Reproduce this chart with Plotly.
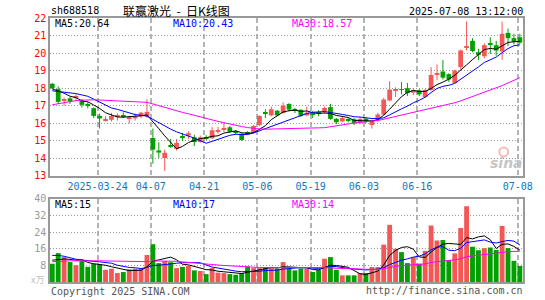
import plotly.graph_objects as go
import pandas as pd

# ---------------- data ----------------
open_ = [18.25, 17.95, 17.30, 17.42, 17.45, 17.28, 17.08, 16.86, 16.42, 16.13,
         16.20, 16.38, 16.42, 16.25, 16.28, 16.39, 16.38, 15.16, 14.45, 14.02,
         14.75, 14.55, 15.22, 15.30, 15.20, 14.93, 15.18, 15.15, 15.55, 15.65,
         15.77, 15.55, 15.40, 15.50, 15.45, 15.90, 16.60, 16.45, 16.72, 16.58,
         17.10, 16.78, 16.77, 16.45, 16.55, 16.60, 16.68, 16.92, 16.25, 16.11,
         16.22, 16.23, 16.04, 16.26, 15.90, 16.18, 16.50, 17.30, 17.85, 17.95,
         18.00, 17.75, 17.88, 17.50, 17.90, 18.78, 18.95, 18.80, 18.30, 19.20,
         20.30, 20.70, 20.05, 19.82, 20.55, 20.45, 20.10, 21.15, 20.85, 20.90]
high = [18.30, 18.10, 17.46, 17.50, 17.65, 17.38, 17.20, 16.90, 16.55, 16.40,
        16.60, 16.57, 16.62, 16.42, 16.55, 16.65, 17.37, 15.70, 14.92, 14.50,
        15.10, 15.10, 15.45, 15.55, 15.34, 15.30, 15.32, 15.78, 15.80, 16.05,
        15.85, 15.60, 15.42, 15.55, 15.90, 16.45, 16.80, 16.95, 16.75, 17.19,
        17.15, 16.87, 16.80, 16.95, 16.70, 16.75, 16.95, 17.11, 16.30, 16.42,
        16.35, 16.30, 16.35, 16.30, 16.20, 16.60, 17.45, 18.40, 18.05, 18.35,
        18.30, 18.00, 17.95, 17.95, 19.20, 19.35, 19.60, 18.85, 19.05, 20.20,
        21.80, 20.85, 20.25, 20.55, 20.90, 20.70, 21.80, 21.40, 21.10, 21.10]
low = [17.95, 17.10, 17.00, 17.10, 17.28, 16.90, 16.85, 16.30, 15.70, 16.10,
       16.10, 16.15, 16.30, 15.98, 16.15, 16.30, 16.30, 13.70, 14.03, 13.28,
       14.60, 14.45, 15.00, 15.10, 14.70, 14.90, 15.05, 15.10, 15.40, 15.50,
       15.45, 15.38, 15.00, 15.35, 15.40, 15.85, 16.30, 16.40, 16.40, 16.55,
       16.68, 16.58, 16.35, 16.40, 16.30, 16.40, 16.55, 16.20, 15.95, 16.05,
       16.05, 15.90, 15.95, 16.00, 15.70, 16.10, 16.45, 17.25, 17.50, 17.65,
       17.55, 17.60, 17.55, 17.45, 17.85, 18.45, 18.50, 18.35, 18.25, 19.05,
       20.15, 20.05, 19.60, 19.70, 19.95, 19.85, 19.62, 20.40, 20.50, 20.50]
close = [18.00, 17.22, 17.35, 17.24, 17.50, 17.05, 17.00, 16.42, 16.28, 16.24,
         16.42, 16.42, 16.38, 16.35, 16.40, 16.60, 16.65, 14.50, 14.33, 14.32,
         14.70, 14.88, 15.18, 15.43, 14.93, 15.20, 15.12, 15.60, 15.58, 15.70,
         15.52, 15.45, 15.05, 15.42, 15.85, 16.42, 16.55, 16.80, 16.45, 17.00,
         16.78, 16.72, 16.42, 16.60, 16.50, 16.55, 16.87, 16.25, 16.06, 16.30,
         16.18, 16.00, 16.25, 16.08, 16.15, 16.50, 17.35, 17.92, 17.90, 17.90,
         17.72, 17.90, 17.65, 17.90, 18.75, 18.82, 18.60, 18.50, 19.00, 20.15,
         20.38, 20.12, 19.90, 20.45, 20.48, 20.15, 21.10, 20.85, 20.65, 20.60]
volume = [8.8, 13.9, 12.0, 9.6, 8.1, 10.1, 7.3, 8.8, 8.3, 5.9,
          6.4, 4.3, 4.8, 6.1, 6.4, 6.5, 13.0, 18.2, 9.1, 10.1,
          9.5, 6.7, 7.3, 7.7, 5.6, 5.3, 3.8, 6.7, 4.5, 4.3,
          3.8, 3.5, 4.3, 7.5, 6.7, 6.7, 7.2, 6.7, 6.4, 9.6,
          6.4, 5.6, 6.5, 6.5, 4.8, 5.9, 11.2, 12.0, 5.9, 3.2,
          3.2, 3.2, 4.3, 4.3, 7.2, 7.2, 18.0, 27.5, 16.0, 14.4,
          9.1, 12.0, 8.8, 15.0, 27.2, 20.0, 20.2, 10.5, 13.8, 26.0,
          36.5, 17.0, 15.3, 16.3, 16.6, 15.5, 27.0, 16.3, 10.2, 7.7]
# history before the first visible bar, estimated from where the MA lines start
prior_close = [15.2, 15.4, 15.6, 16.0, 16.2, 16.4, 16.5, 16.6, 16.7, 16.8,
               16.8, 16.9, 17.1, 16.9, 17.0, 17.2, 17.3, 17.4, 17.5, 17.6,
               17.6, 17.7, 17.8, 17.8, 17.8, 17.8, 18.0, 18.1, 17.9]
prior_volume = [7, 8, 9, 8, 7, 9, 10, 8, 7, 8, 9, 8, 7, 9, 10, 8, 8, 9, 8, 9,
                14, 16, 17, 15, 13.5, 12, 11, 10.5, 10.2]

date_tick_bar = [8, 17, 26, 35, 44, 53, 62, 79]
date_tick_text = ["2025-03-24", "04-07", "04-21", "05-06", "05-19", "06-03", "06-16", "07-08"]
price_ticks = [13, 14, 15, 16, 17, 18, 19, 20, 21, 22]
vol_ticks = [8, 16, 24, 32, 40]
ma_periods = [5, 10, 30]
price_ma_labels = ["MA5:20.64", "MA10:20.43", "MA30:18.57"]
vol_ma_labels = ["MA5:15", "MA10:17", "MA30:14"]
code_text = "sh688518"
title_text = "联赢激光\u00a0\u00a0-\u00a0\u00a0日K线图"
time_text = "2025-07-08 13:12:00"
copyright_text = "Copyright 2025 SINA.COM"
url_text = "http://finance.sina.com.cn"
vol_unit_text = "x万"

# ---------------- styling ----------------
W, H = 545, 300
L, R, T, B = 50, 16, 18, 15
PW, PH = W - L - R, H - T - B
MAIN_TOP, MAIN_BOT = 18, 177.7
VOL_TOP, VOL_BOT = 201, 285
RED, GREEN = "#f55757", "#00a000"
MA_COLORS = ["#000000", "#0000ff", "#ff00ff"]
DATE_BLUE = "#0a78c8"
FRAME = "#999999"
MONO = "DejaVu Sans Mono"
CJK = "Noto Sans CJK SC"


def py(y):
    return (H - B - y) / PH


def px(x):
    return (x - L) / PW


n = len(close)
idx = list(range(n))
up = [c >= o for o, c in zip(open_, close)]
colors = [RED if u else GREEN for u in up]

all_close = pd.Series(prior_close + close)
all_vol = pd.Series(prior_volume + volume)
price_ma = [all_close.rolling(p).mean().iloc[len(prior_close):].tolist() for p in ma_periods]
vol_ma = [all_vol.rolling(p).mean().iloc[len(prior_volume):].tolist() for p in ma_periods]

fig = go.Figure()

# candle bodies
body_base = [min(o, c) for o, c in zip(open_, close)]
body_h = [max(abs(c - o), 0.05) for o, c in zip(open_, close)]
fig.add_trace(go.Bar(x=idx, y=body_h, base=body_base, width=0.8,
                     marker=dict(color=colors, line=dict(width=0)),
                     xaxis="x", yaxis="y", hoverinfo="skip"))
# wicks
for col, flag in ((RED, True), (GREEN, False)):
    xs, ys = [], []
    for i in idx:
        if up[i] == flag:
            xs += [i, i, None]
            ys += [low[i], high[i], None]
    fig.add_trace(go.Scatter(x=xs, y=ys, mode="lines", line=dict(color=col, width=1),
                             xaxis="x", yaxis="y", hoverinfo="skip"))
# price MAs
for vals, col in zip(price_ma, MA_COLORS):
    fig.add_trace(go.Scatter(x=idx, y=vals, mode="lines", line=dict(color=col, width=1),
                             xaxis="x", yaxis="y", hoverinfo="skip"))
# volume
fig.add_trace(go.Bar(x=idx, y=volume, width=0.82,
                     marker=dict(color=colors, line=dict(width=0)),
                     xaxis="x2", yaxis="y2", hoverinfo="skip"))
for vals, col in zip(vol_ma, MA_COLORS):
    fig.add_trace(go.Scatter(x=idx, y=vals, mode="lines", line=dict(color=col, width=1),
                             xaxis="x2", yaxis="y2", hoverinfo="skip"))

xr = [-0.383, n - 1 + 0.53]
grid_x = [b - 0.35 for b in date_tick_bar]
main_dom = [py(MAIN_BOT), py(MAIN_TOP)]
vol_dom = [py(VOL_BOT), py(VOL_TOP)]

common_x = dict(range=xr, tickvals=grid_x, showgrid=True, gridcolor="#b4b4b4",
                griddash="5px,3px", gridwidth=1.5, showline=True, mirror=True,
                linecolor=FRAME, linewidth=1.5, zeroline=False, ticks="", fixedrange=True)
common_y = dict(showgrid=True, gridcolor="#9a9a9a", griddash="1px,2px", gridwidth=1,
                showline=True, mirror=True, linecolor=FRAME, linewidth=1.5,
                zeroline=False, ticks="", fixedrange=True)

fig.update_layout(
    width=W, height=H, margin=dict(l=L, r=R, t=T, b=B),
    paper_bgcolor="white", plot_bgcolor="white", showlegend=False,
    barmode="overlay",
    xaxis=dict(**common_x, anchor="y", ticktext=date_tick_text,
               tickfont=dict(family=MONO, size=10, color=DATE_BLUE)),
    yaxis=dict(**common_y, domain=main_dom, anchor="x", range=[13, 22.0001],
               tickvals=price_ticks, tickfont=dict(family=MONO, size=10, color="#ff0000")),
    xaxis2=dict(**common_x, anchor="y2", showticklabels=False),
    yaxis2=dict(**common_y, domain=vol_dom, anchor="x2", range=[0, 40.0001],
                tickvals=vol_ticks, tickfont=dict(family=MONO, size=10, color="#999999")),
)


def ann(text, x, y, color, size=10, family=MONO, xanchor="left", **font_kw):
    fig.add_annotation(text=text, x=px(x), y=py(y), xref="paper", yref="paper",
                       showarrow=False, xanchor=xanchor, yanchor="middle",
                       font=dict(family=family, size=size, color=color, **font_kw))


ann(code_text, 49, 10.5, "#000000")
ann(title_text, 178, 10, "#000000", size=12, family=CJK, xanchor="center")
ann(time_text, 531, 11.5, "#000000", xanchor="right")
for lab, col, x in zip(price_ma_labels, MA_COLORS, (53, 173, 293)):
    ann(lab, x, 24, col)
for lab, col, x in zip(vol_ma_labels, MA_COLORS, (53, 173, 293)):
    ann(lab, x, 207, col)
ann(vol_unit_text, 37, 282, "#c0c0c0", size=9, family=CJK, xanchor="center")
ann(copyright_text, 49, 294.5, "#555555")
ann(url_text, 531, 293.5, "#555555", xanchor="right")
ann("sina", 512, 165, "#c6c6c6", size=14, family="DejaVu Sans", xanchor="center",
    style="italic", weight="bold")
fig.add_shape(type="circle", xref="paper", yref="paper",
              x0=px(505), x1=px(514), y0=py(158), y1=py(149),
              line=dict(color="rgba(240,130,130,0.55)", width=2))

fig.write_html("out.html")
